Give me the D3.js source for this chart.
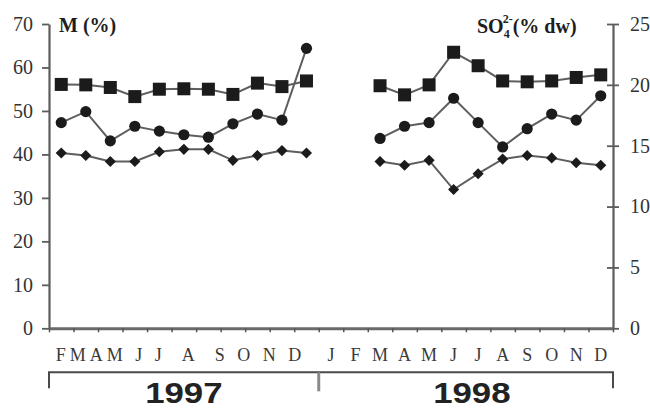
<!DOCTYPE html>
<html>
<head>
<meta charset="utf-8">
<script src="https://cdn.jsdelivr.net/npm/d3@7/dist/d3.min.js"></script>
<style>
  html, body { margin: 0; padding: 0; background: #fff; }
  svg { display: block; }
  .serif { font-family: "Liberation Serif", "Times New Roman", serif; }
</style>
</head>
<body>
<svg id="chart" width="650" height="409"></svg>
<script>
// Months from February 1997 to December 1998
const monthLabels1997 = ["F", "M", "A", "M", "J", "J", "A", "S", "O", "N", "D"];
const monthLabels1998 = ["J", "F", "M", "A", "M", "J", "J", "A", "S", "O", "N", "D"];
const years = ["1997", "1998"];

// Moisture, M (%) – left axis (squares)
const moisture = [56.1, 56.0, 55.4, 53.3, 55.0, 55.1, 55.0, 53.8, 56.4, 55.6, 56.9,
                  null, null,
                  55.8, 53.7, 56.0, 63.5, 60.4, 56.9, 56.7, 56.9, 57.7, 58.3];
// Sulphate, SO4 2- (% dw) – right axis (circles and diamonds)
const sulphateA = [16.9, 17.8, 15.4, 16.6, 16.2, 15.9, 15.7, 16.8, 17.6, 17.1, 23.0,
                   null, null,
                   15.6, 16.6, 16.9, 18.9, 16.9, 14.9, 16.4, 17.6, 17.1, 19.1];
const sulphateB = [14.4, 14.2, 13.7, 13.7, 14.5, 14.7, 14.7, 13.8, 14.2, 14.6, 14.4,
                   null, null,
                   13.7, 13.4, 13.8, 11.4, 12.7, 13.9, 14.2, 14.0, 13.6, 13.4];

const leftTicks = [0, 10, 20, 30, 40, 50, 60, 70];
const rightTicks = [0, 5, 10, 15, 20, 25];

const svg = d3.select("#chart");
const plot = { left: 49, right: 613, top: 24, bottom: 328.3 };
const nMonths = monthLabels1997.length + monthLabels1998.length;   // 23

// Month index -> x (ticks on month boundaries, points at month centres)
const x = d3.scaleLinear().domain([0, nMonths]).range([plot.left, plot.right]);
const yL = d3.scaleLinear().domain([0, 70]).range([plot.bottom, plot.top]);
const yR = d3.scaleLinear().domain([0, 25]).range([plot.bottom, plot.top]);

const axisColor = "#5c5c5c";
const lineColor = "#5e5e5e";
const markColor = "#1b1b1b";

// ---- Axes ----
const gL = svg.append("g").attr("transform", `translate(${plot.left},0)`)
  .call(d3.axisLeft(yL).tickValues(leftTicks).tickSize(7).tickSizeOuter(0).tickPadding(9));
const gR = svg.append("g").attr("transform", `translate(${plot.right},0)`)
  .call(d3.axisRight(yR).tickValues(rightTicks).tickSize(6).tickSizeOuter(0).tickPadding(11));
gR.selectAll(".tick line").attr("x1", -6);
const gX = svg.append("g").attr("transform", `translate(0,${plot.bottom})`)
  .call(d3.axisBottom(x).tickValues(d3.range(nMonths + 1)).tickFormat("").tickSize(4).tickSizeOuter(0));

[gL, gR].forEach(g => {
  g.select(".domain").attr("stroke", axisColor).attr("stroke-width", 2.2);
  g.selectAll(".tick line").attr("stroke", axisColor).attr("stroke-width", 1.8);
  g.selectAll(".tick text")
    .attr("class", "serif")
    .style("font-family", '"Liberation Serif", serif')
    .style("font-size", "20px")
    .attr("fill", "#333");
});
gX.select(".domain").attr("stroke", "#6a6a6a").attr("stroke-width", 3);
gX.selectAll(".tick line").attr("stroke", "#555").attr("stroke-width", 1.5);

// ---- Axis titles ----
svg.append("text").attr("class", "serif")
  .attr("x", 59).attr("y", 32)
  .style("font-size", "20px").style("font-weight", "bold").attr("fill", "#1e1e1e")
  .text("M (%)");

const so4 = svg.append("text").attr("class", "serif")
  .attr("x", 477).attr("y", 33)
  .style("font-size", "20px").style("font-weight", "bold").attr("fill", "#1e1e1e");
so4.append("tspan").text("SO");
so4.append("tspan").attr("dy", 5).style("font-size", "12px").text("4");
so4.append("tspan").attr("dx", -7).attr("dy", -15).style("font-size", "12px").text("2-");
so4.append("tspan").attr("dy", 10).text("(% dw)");

// ---- Series ----
const line = (scale) => d3.line()
  .defined(d => d != null)
  .x((d, i) => x(i + 0.5))
  .y(d => scale(d));

const series = [
  { values: moisture,  scale: yL, shape: "square" },
  { values: sulphateA, scale: yR, shape: "circle" },
  { values: sulphateB, scale: yR, shape: "diamond" }
];

series.forEach(s => {
  svg.append("path")
    .datum(s.values)
    .attr("fill", "none")
    .attr("stroke", lineColor)
    .attr("stroke-width", 2)
    .attr("d", line(s.scale));
});

series.forEach(s => {
  const pts = s.values.map((v, i) => ({ v, i })).filter(d => d.v != null);
  const g = svg.append("g").attr("fill", markColor);
  if (s.shape === "square") {
    g.selectAll("rect").data(pts).join("rect")
      .attr("x", d => x(d.i + 0.5) - 6.5)
      .attr("y", d => s.scale(d.v) - 6.5)
      .attr("width", 13).attr("height", 13);
  } else if (s.shape === "circle") {
    g.selectAll("circle").data(pts).join("circle")
      .attr("cx", d => x(d.i + 0.5))
      .attr("cy", d => s.scale(d.v))
      .attr("r", 5.6);
  } else {
    g.selectAll("path").data(pts).join("path")
      .attr("d", d3.symbol(d3.symbolSquare, 62)())
      .attr("transform", d => `translate(${x(d.i + 0.5)},${s.scale(d.v)}) rotate(45)`);
  }
});

// ---- Month labels ----
// 1997: typeset as one spaced row
svg.append("text").attr("class", "serif")
  .attr("x", 55.7).attr("y", 361)
  .style("font-size", "18px").style("letter-spacing", "4px").style("white-space", "pre")
  .attr("fill", "#3a3a3a")
  .text(monthLabels1997.slice(0, 4).join("") + " " + monthLabels1997[4] + " " +
        monthLabels1997[5] + "  " + monthLabels1997[6] + "  " +
        monthLabels1997.slice(7).join(" "));
// 1998: one label per month, centred on the month
const off98 = monthLabels1997.length;
svg.append("g").selectAll("text").data(monthLabels1998).join("text")
  .attr("class", "serif")
  .attr("x", (d, i) => x(off98 + i + 0.5))
  .attr("y", 361)
  .attr("text-anchor", "middle")
  .style("font-size", "18px")
  .attr("fill", "#3a3a3a")
  .text(d => d);

// ---- Year brackets ----
const bracketY = 372.3;
const yearEdge = x(off98);   // boundary between the two years
svg.append("path")
  .attr("fill", "none").attr("stroke", "#4a4a4a").attr("stroke-width", 2)
  .attr("d", `M${x(0)},${bracketY + 16}V${bracketY}H${x(nMonths)}V${bracketY + 16}`);
svg.append("line")
  .attr("x1", yearEdge).attr("x2", yearEdge)
  .attr("y1", bracketY).attr("y2", bracketY + 19)
  .attr("stroke", "#8a8a8a").attr("stroke-width", 3);

// Year names, widened slightly so they sit under their brackets
const yearCentres = [(x(0) + yearEdge) / 2, (yearEdge + x(nMonths)) / 2 + 6];
svg.append("g").selectAll("text").data(years).join("text")
  .attr("transform", (d, i) => `translate(${yearCentres[i]},402.6) scale(1.2,1)`)
  .attr("text-anchor", "middle")
  .style("font-family", '"Liberation Sans", Arial, sans-serif')
  .style("font-size", "29px").style("font-weight", "bold")
  .attr("fill", "#222")
  .text(d => d);
</script>
</body>
</html>
